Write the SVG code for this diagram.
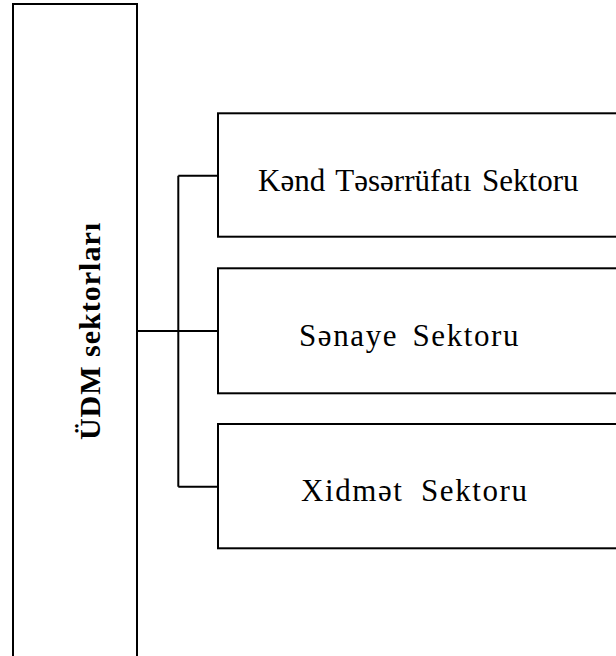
<svg xmlns="http://www.w3.org/2000/svg" width="616" height="656" viewBox="0 0 616 656">
<style>
.box{fill:#fff;stroke:#000;stroke-width:2}
.con{fill:none;stroke:#000;stroke-width:2}
.t{font-family:"Liberation Serif","Times New Roman",serif;font-size:31px;fill:#000}
.tb{font-family:"Liberation Serif","Times New Roman",serif;font-size:30px;font-weight:bold;fill:#000;text-anchor:middle;letter-spacing:1px}
</style>
<rect width="616" height="656" fill="#fff"/>
<g id="connectors">
<path class="con" d="M137 331H218M178.3 175.7V486.7M178.3 175.7H218M178.3 486.7H218"/>
</g>
<g id="udm">
<rect class="box" x="13" y="4" width="124" height="670"/>
<text class="tb" transform="translate(100 331) rotate(-90)">ÜDM sektorları</text>
</g>
<g id="kend">
<rect class="box" x="218" y="113.3" width="410" height="123.4"/>
<text class="t" x="258" y="191" word-spacing="3">Kənd Təsərrüfatı Sektoru</text>
</g>
<g id="senaye">
<rect class="box" x="218" y="268.3" width="410" height="125"/>
<text class="t" x="299" y="346" letter-spacing="1.6" word-spacing="5">Sənaye Sektoru</text>
</g>
<g id="xidmet">
<rect class="box" x="218" y="424" width="410" height="124.3"/>
<text class="t" x="301" y="501" letter-spacing="1.6" word-spacing="8">Xidmət Sektoru</text>
</g>
</svg>
